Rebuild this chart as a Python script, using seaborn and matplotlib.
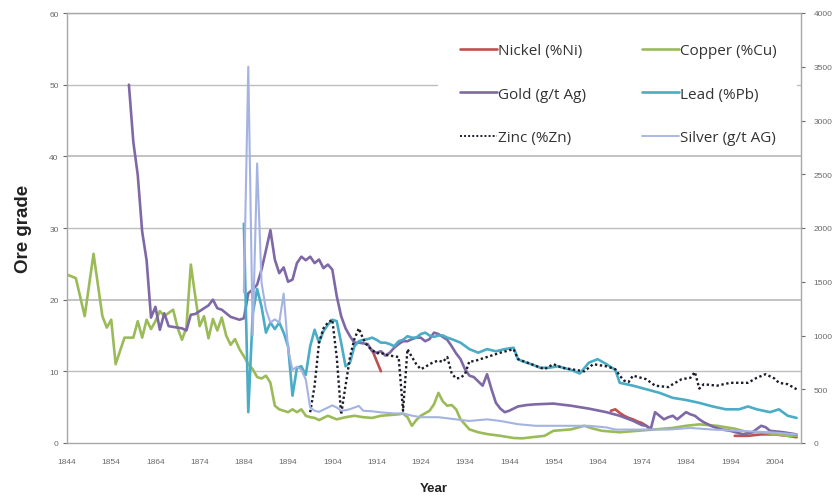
import numpy as np
import pandas as pd
import matplotlib
matplotlib.use("Agg")
import matplotlib.pyplot as plt
from matplotlib.patches import Rectangle
from matplotlib.lines import Line2D
import seaborn as sns

# ---------------- data ----------------
copper_years = [1844, 1846, 1848, 1850, 1852, 1853, 1854, 1855, 1857, 1859, 1860, 1861, 1862, 1863,
                1864, 1865, 1866, 1868, 1869, 1870, 1871, 1872, 1873, 1874, 1875, 1876, 1877, 1878,
                1879, 1880, 1881, 1882, 1883, 1884, 1885, 1886, 1887, 1888, 1889, 1890, 1891, 1892,
                1893, 1894, 1895, 1896, 1897, 1898, 1899, 1900, 1901, 1902, 1903, 1905, 1907, 1909,
                1911, 1913, 1915, 1917, 1919, 1920, 1921, 1922, 1923, 1924, 1926, 1927, 1928, 1929,
                1930, 1931, 1932, 1933, 1935, 1937, 1939, 1942, 1945, 1947, 1949, 1952, 1954, 1958,
                1961, 1963, 1965, 1969, 1973, 1977, 1981, 1984, 1987, 1991, 1995, 1998, 2001, 2004,
                2007, 2009]
copper_vals = [23.5, 23.0, 17.7, 26.4, 17.7, 16.1, 17.2, 11.0, 14.7, 14.7, 17.0, 14.7, 17.2, 15.9,
               17.0, 18.4, 17.7, 18.6, 16.1, 14.4, 16.1, 24.9, 20.5, 16.3, 17.7, 14.6, 17.3, 15.7,
               17.5, 15.0, 13.7, 14.5, 13.1, 12.1, 11.0, 10.3, 9.2, 9.0, 9.4, 8.4, 5.2, 4.7,
               4.5, 4.3, 4.7, 4.3, 4.7, 3.8, 3.6, 3.5, 3.2, 3.5, 3.8, 3.3, 3.6, 3.8,
               3.6, 3.5, 3.8, 3.9, 4.0, 4.1, 3.6, 2.4, 3.2, 3.8, 4.5, 5.4, 7.0, 5.8,
               5.2, 5.3, 4.7, 3.3, 1.9, 1.5, 1.25, 1.0, 0.7, 0.65, 0.8, 1.0, 1.7, 1.9,
               2.4, 2.0, 1.7, 1.5, 1.7, 1.9, 2.1, 2.4, 2.6, 2.4, 2.0, 1.5, 1.5, 1.25,
               1.0, 1.0]

gold_years = [1858, 1859, 1860, 1861, 1862, 1863, 1864, 1865, 1866, 1867, 1868, 1869, 1870, 1871,
              1872, 1873, 1874, 1875, 1876, 1877, 1878, 1879, 1880, 1881, 1882, 1883, 1884, 1885,
              1886, 1887, 1888, 1889, 1890, 1891, 1892, 1893, 1894, 1895, 1896, 1897, 1898, 1899,
              1900, 1901, 1902, 1903, 1904, 1905, 1906, 1907, 1908, 1909, 1910, 1911, 1912, 1913,
              1914, 1915, 1916, 1917, 1918, 1919, 1920, 1921, 1922, 1923, 1924, 1925, 1926, 1927,
              1928, 1929, 1930, 1931, 1932, 1933, 1934, 1935, 1936, 1937, 1938, 1939, 1940, 1941,
              1942, 1943, 1944, 1945, 1946, 1948, 1950, 1954, 1958, 1962, 1966, 1969, 1972, 1974,
              1975, 1976, 1977, 1978, 1979, 1980, 1981, 1982, 1983, 1984, 1985, 1986, 1987, 1988,
              1990, 1992, 1994, 1997, 1999, 2001, 2002, 2003, 2006, 2009]
gold_vals = [50.0, 42.0, 37.4, 29.5, 25.5, 17.5, 19.0, 15.8, 18.1, 16.3, 16.2, 16.1, 16.0, 15.7,
             17.9, 18.0, 18.4, 18.8, 19.2, 20.0, 18.8, 18.6, 18.1, 17.6, 17.4, 17.2, 17.4, 20.9,
             21.4, 22.1, 24.2, 26.9, 29.7, 25.6, 23.7, 24.5, 22.5, 22.8, 25.1, 26.0, 25.5, 26.0,
             25.1, 25.6, 24.4, 24.9, 24.2, 20.5, 17.7, 16.0, 14.9, 14.0, 14.0, 13.9, 13.8, 12.8,
             12.6, 12.8, 12.2, 12.6, 13.3, 13.8, 14.2, 14.2, 14.5, 14.7, 14.7, 14.2, 14.5, 15.4,
             15.2, 14.8, 14.4, 13.5, 12.5, 11.7, 10.3, 9.4, 9.2, 8.6, 8.0, 9.6, 7.5, 5.6,
             4.8, 4.3, 4.5, 4.8, 5.1, 5.3, 5.4, 5.5, 5.2, 4.8, 4.3, 3.8, 3.1, 2.5,
             2.4, 1.9, 4.3, 3.8, 3.3, 3.6, 3.8, 3.3, 3.8, 4.3, 4.0, 3.8, 3.3, 2.9,
             2.3, 1.9, 1.7, 1.2, 1.5, 2.4, 2.2, 1.7, 1.5, 1.2]

lead_years = [1884, 1885, 1886, 1887, 1888, 1889, 1890, 1891, 1892, 1893, 1894, 1895, 1896, 1897,
              1898, 1899, 1900, 1901, 1902, 1903, 1904, 1905, 1906, 1907, 1908, 1909, 1910, 1911,
              1912, 1913, 1914, 1915, 1916, 1917, 1918, 1919, 1920, 1921, 1922, 1923, 1924, 1925,
              1926, 1927, 1928, 1929, 1930, 1931, 1933, 1935, 1937, 1939, 1941, 1943, 1945, 1946,
              1947, 1949, 1951, 1953, 1955, 1958, 1960, 1962, 1964, 1966, 1968, 1969, 1972, 1975,
              1978, 1981, 1984, 1987, 1990, 1993, 1996, 1998, 2000, 2003, 2005, 2007, 2009]
lead_vals = [30.6, 4.3, 18.0, 21.5, 19.0, 15.4, 16.8, 15.9, 16.8, 15.4, 13.5, 6.6, 10.5, 10.7,
             9.5, 13.5, 15.8, 14.0, 15.6, 16.5, 17.2, 17.0, 14.0, 10.7, 11.2, 13.5, 14.2, 14.4,
             14.5, 14.7, 14.4, 14.0, 14.0, 13.8, 13.5, 14.2, 14.4, 14.9, 14.7, 14.7, 15.2, 15.4,
             15.0, 14.8, 15.0, 15.0, 14.7, 14.5, 14.0, 13.1, 12.6, 13.1, 12.8, 13.1, 13.3, 11.7,
             11.4, 11.0, 10.5, 10.5, 10.7, 10.2, 9.7, 11.2, 11.7, 11.0, 10.2, 8.4, 8.0, 7.5,
             7.0, 6.3, 6.0, 5.6, 5.1, 4.7, 4.7, 5.1, 4.7, 4.3, 4.7, 3.8, 3.5]

zinc_years = [1899, 1900, 1901, 1902, 1903, 1904, 1905, 1906, 1907, 1908, 1909, 1910, 1911, 1912,
              1913, 1914, 1915, 1916, 1917, 1918, 1919, 1920, 1921, 1922, 1923, 1924, 1925, 1926,
              1927, 1928, 1929, 1930, 1931, 1932, 1933, 1934, 1935, 1936, 1938, 1940, 1942, 1945,
              1946, 1949, 1952, 1954, 1956, 1958, 1961, 1963, 1966, 1968, 1969, 1970, 1971, 1972,
              1975, 1977, 1980, 1981, 1983, 1985, 1986, 1987, 1988, 1991, 1994, 1998, 2000, 2002,
              2004, 2005, 2007, 2009]
zinc_vals = [4.3, 8.0, 14.0, 16.0, 16.8, 17.2, 12.0, 4.0, 8.0, 12.0, 14.5, 16.0, 14.5, 13.5,
             13.0, 12.5, 12.6, 12.3, 12.2, 12.1, 12.0, 4.5, 13.1, 12.0, 11.0, 10.3, 10.6, 11.0,
             11.3, 11.5, 11.3, 12.0, 9.7, 9.0, 9.1, 9.6, 11.4, 11.4, 11.8, 12.2, 12.6, 13.1,
             11.7, 11.0, 10.3, 11.0, 10.5, 10.3, 10.0, 11.0, 10.7, 10.3, 9.4, 8.7, 8.5, 9.4,
             8.9, 8.0, 7.8, 8.2, 8.9, 9.1, 9.9, 7.6, 8.2, 8.0, 8.4, 8.4, 9.1, 9.6,
             9.0, 8.4, 8.2, 7.5]

silver_years = [1884, 1885, 1886, 1887, 1888, 1889, 1890, 1891, 1892, 1893, 1894, 1895, 1896, 1897,
                1898, 1899, 1900, 1901, 1902, 1903, 1904, 1905, 1906, 1907, 1908, 1910, 1911, 1913,
                1915, 1918, 1920, 1922, 1924, 1928, 1932, 1935, 1939, 1942, 1946, 1950, 1962, 1966,
                1968, 1980, 1985, 1990, 1995, 2000, 2003, 2009]
silver_vals = [1400, 3500, 1000, 2600, 1490, 1240, 1120, 1150, 1120, 1390, 870, 680, 710, 680,
               590, 330, 300, 290, 310, 330, 350, 330, 300, 305, 315, 345, 300, 295,
               285, 275, 275, 255, 240, 240, 220, 205, 220, 205, 175, 160, 160, 145,
               125, 125, 140, 125, 115, 105, 100, 80]

nickel_years = [1913, 1914, 1915, 1967, 1968, 1969, 1970, 1971, 1972, 1973, 1974, 1975, 1976,
                1995, 1998, 2001, 2004, 2007, 2009]
nickel_vals = [13.0, 11.5, 10.0, 4.5, 4.7, 4.2, 3.8, 3.5, 3.3, 3.0, 2.8, 2.4, 2.0,
               1.0, 1.0, 1.2, 1.2, 1.0, 0.8]
nickel_segment = [1, 1, 1, 2, 2, 2, 2, 2, 2, 2, 2, 2, 2, 3, 3, 3, 3, 3, 3]

x_ticks = list(range(1844, 2005, 10))
left_ticks = [0, 10, 20, 30, 40, 50, 60]
right_ticks = [0, 500, 1000, 1500, 2000, 2500, 3000, 3500, 4000]

# ---------------- styling ----------------
C_NICKEL = "#C0504D"
C_COPPER = "#9BBB59"
C_GOLD = "#7E68A6"
C_LEAD = "#4BACC6"
C_ZINC = "#1C1C2A"
C_SILVER = "#A4B3E2"

sns.set_theme(style="white")
plt.rcParams["font.family"] = ["Liberation Sans", "DejaVu Sans"]

fig = plt.figure(figsize=(8.4, 5.02), dpi=100)
ax = fig.add_axes([67 / 840, 1 - 444 / 502, (801 - 67) / 840, (444 - 14) / 502])
ax2 = ax.twinx()

lw = 1.9
seg_df = pd.DataFrame({"year": nickel_years, "value": nickel_vals, "seg": nickel_segment})
for s, d in seg_df.groupby("seg"):
    sns.lineplot(data=d, x="year", y="value", ax=ax, color=C_NICKEL, linewidth=lw,
                 estimator=None, sort=False, zorder=3)
sns.lineplot(x=copper_years, y=copper_vals, ax=ax, color=C_COPPER, linewidth=lw,
             estimator=None, sort=False, zorder=3)
sns.lineplot(x=gold_years, y=gold_vals, ax=ax, color=C_GOLD, linewidth=lw,
             estimator=None, sort=False, zorder=3)
sns.lineplot(x=lead_years, y=lead_vals, ax=ax, color=C_LEAD, linewidth=lw,
             estimator=None, sort=False, zorder=3)
sns.lineplot(x=zinc_years, y=zinc_vals, ax=ax, color=C_ZINC, linewidth=1.7,
             linestyle=(0, (1, 1.1)), estimator=None, sort=False, zorder=4)
sns.lineplot(x=silver_years, y=silver_vals, ax=ax2, color=C_SILVER, linewidth=1.5,
             estimator=None, sort=False, zorder=3)

# axes ranges
ax.set_xlim(1844, 2010)
ax.set_ylim(0, 60)
ax2.set_ylim(0, 4000)
ax2.set_xlim(1844, 2010)

grid_c = "#BDBDBD"
ax.set_axisbelow(True)
for v in left_ticks[1:]:
    ax.axhline(v, color=grid_c, linewidth=1.3 if v in (20, 40) else 1.0, zorder=0.5)

# white legend area hiding grid
ax.add_patch(Rectangle((0.505, 0.685), 0.49, 0.31, transform=ax.transAxes,
                       facecolor="white", edgecolor="none", zorder=1))

ax.set_xticks(x_ticks)
ax.set_xticklabels([str(t) for t in x_ticks])
ax.set_yticks(left_ticks)
ax2.set_yticks(right_ticks)

tick_c = "#6A6A6A"
for a in (ax, ax2):
    a.tick_params(axis="both", labelsize=6, colors=tick_c, length=3, width=0.8,
                  direction="out", pad=3)
    for sp in a.spines.values():
        sp.set_color("#A8A8A8")
        sp.set_linewidth(1.0)
ax.tick_params(axis="x", pad=8)
ax2.tick_params(axis="y", pad=6)
ax.spines["right"].set_visible(False)
ax2.spines["left"].set_visible(False)
ax2.spines["top"].set_visible(False)
ax2.spines["bottom"].set_visible(False)
ax2.grid(False)
ax.grid(False)

ax.set_xlabel("Year", fontsize=9.5, fontweight="bold", color="#222222", labelpad=12)
ax.set_ylabel("Ore grade", fontsize=13.5, fontweight="bold", color="#222222", labelpad=12)
ax2.set_ylabel("")

# legend, two columns placed separately
leg_kw = dict(loc="upper left", frameon=False, handlelength=2.4,
              handletextpad=0.1, labelspacing=1.87, borderaxespad=0, borderpad=0,
              prop={"family": ["Open Sans", "DejaVu Sans"], "size": 11})
h1 = [Line2D([], [], color=C_NICKEL, lw=lw),
      Line2D([], [], color=C_GOLD, lw=lw),
      Line2D([], [], color=C_ZINC, lw=1.4, linestyle=(0, (1, 1.1)))]
l1 = ["Nickel (%Ni)", "Gold (g/t Ag)", "Zinc (%Zn)"]
h2 = [Line2D([], [], color=C_COPPER, lw=lw),
      Line2D([], [], color=C_LEAD, lw=lw),
      Line2D([], [], color=C_SILVER, lw=1.3)]
l2 = ["Copper (%Cu)", "Lead (%Pb)", "Silver (g/t AG)"]
y_anchor = (444 - 44) / 430
leg1 = ax2.legend(h1, l1, bbox_to_anchor=((460 - 67) / 734, y_anchor), **leg_kw)
ax2.add_artist(leg1)
leg2 = ax2.legend(h2, l2, bbox_to_anchor=((642 - 67) / 734, y_anchor), **leg_kw)
for lg in (leg1, leg2):
    for t in lg.get_texts():
        t.set_color("#333333")

fig.savefig("out.png", dpi=100, facecolor="white")
